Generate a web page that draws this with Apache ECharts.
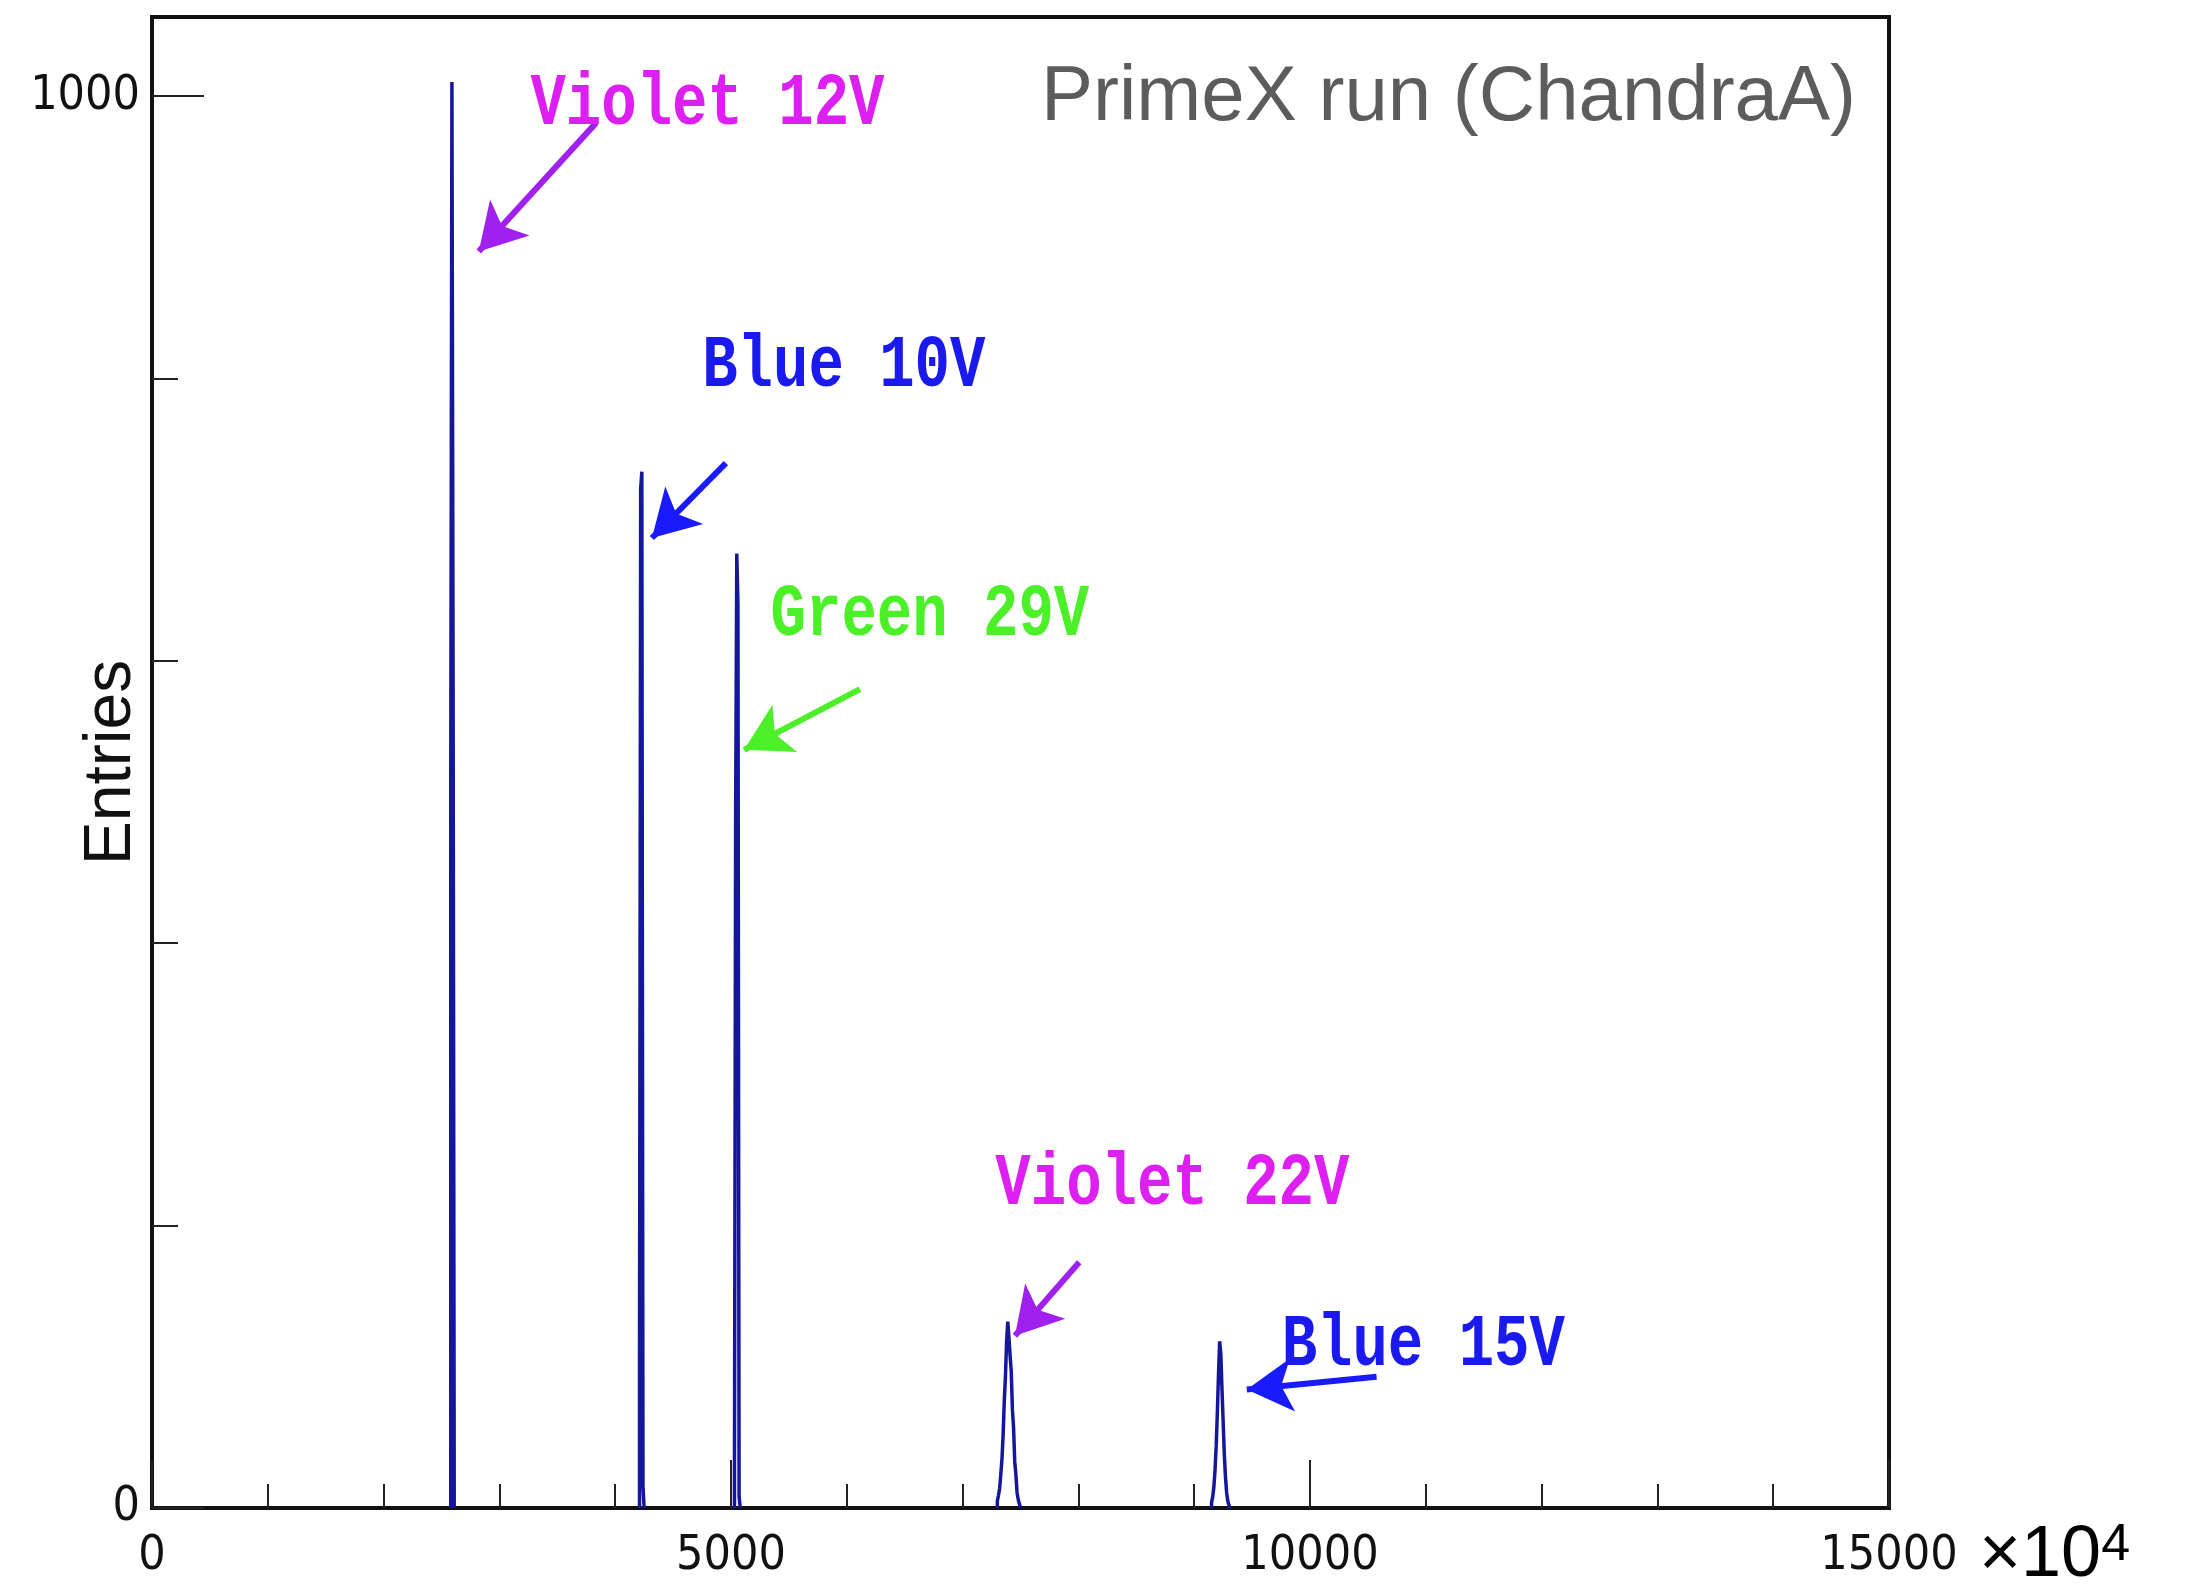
<!DOCTYPE html>
<html>
<head>
<meta charset="utf-8">
<script src="https://cdn.jsdelivr.net/npm/echarts@6/dist/echarts.min.js"></script>
<style>
html,body{margin:0;padding:0;background:#ffffff;}
#chart{width:2188px;height:1587px;}
</style>
</head>
<body>
<div id="chart"></div>
<script>
// ---------------- data ----------------
const binWidth = 10; // x units per histogram bin (axis shown x10^4)
const peakNames = ['Violet 12V', 'Blue 10V', 'Green 29V', 'Violet 22V', 'Blue 15V'];
const peakStarts = [2580, 4210, 5030, 7300, 9150];
const peak1Counts = [518, 1010, 592];
const peak2Counts = [110, 722, 734, 15];
const peak3Counts = [32, 490, 676, 640, 8];
const peak4Counts = [5, 9, 14, 24, 35, 52, 76, 93, 118, 132, 121, 108, 97, 70, 57, 33, 24, 11, 6, 3];
const peak5Counts = [4, 8, 15, 27, 44, 68, 95, 118, 109, 84, 61, 38, 22, 11, 5, 2];
const xMax = 15000;
const yMax = 1056;
const xMajorInterval = 5000;
const yLabelValues = [0, 1000];
const yMinorTickValues = [200, 400, 600, 800];

// annotation anchors (data coordinates)
const annotationTextPos = [[3268, 997], [4751, 811], [5342, 635], [7283, 232], [9755, 118]];
const arrowFrom = [[3835, 981], [4956, 740], [6114, 580], [8007, 174], [10575, 93]];
const arrowTo = [[2822, 890], [4317, 687], [5113, 537], [7452, 122], [9454, 84]];

// ---------------- styles ----------------
const histColor = '#16169a';
const textColors = ['#dd1ff2', '#1a1aee', '#4cf028', '#dd1ff2', '#1a1aee'];
const arrowColors = ['#a020f0', '#1a1aff', '#4cf028', '#a020f0', '#1a1aff'];
const narrowFont = '"Liberation Sans Narrow", "DejaVu Sans Condensed", "Liberation Sans", Arial, sans-serif';
const sansFont = '"Liberation Sans", Arial, Helvetica, sans-serif';
const monoFont = '"Courier New", "Liberation Mono", monospace';

const allCounts = [peak1Counts, peak2Counts, peak3Counts, peak4Counts, peak5Counts];

function histPoints(start, counts) {
  const pts = [[start, 0]];
  counts.forEach((v, i) => pts.push([start + i * binWidth, v]));
  pts.push([start + counts.length * binWidth, 0]);
  return pts;
}

const series = allCounts.map((counts, k) => ({
  type: 'line',
  name: peakNames[k],
  step: 'end',
  showSymbol: false,
  symbol: 'none',
  silent: true,
  animation: false,
  xAxisIndex: 0,
  yAxisIndex: 0,
  lineStyle: { color: histColor, width: 3.5 },
  data: histPoints(peakStarts[k], counts)
}));

series[0].markLine = {
  silent: true,
  animation: false,
  symbol: ['none', 'arrow'],
  symbolSize: [40, 46],
  label: { show: false },
  data: arrowFrom.map((f, i) => [
    { coord: f, lineStyle: { color: arrowColors[i], width: 6, type: 'solid' }, itemStyle: { color: arrowColors[i] } },
    { coord: arrowTo[i] }
  ])
};

const plainNumber = v => String(Math.round(v));

const option = {
  backgroundColor: '#ffffff',
  animation: false,
  title: {
    text: 'PrimeX run (ChandraA)',
    right: 332,
    top: 59,
    padding: 0,
    textStyle: { fontSize: 78, fontWeight: 'normal', color: '#5c5c5c', fontFamily: sansFont }
  },
  grid: {
    left: 152, right: 299, top: 17, bottom: 79,
    show: true, borderColor: '#111', borderWidth: 4,
    containLabel: false, outerBoundsMode: 'none'
  },
  xAxis: {
    type: 'value',
    min: 0, max: xMax, interval: xMajorInterval,
    axisLine: { show: true, onZero: false, lineStyle: { color: '#111', width: 4 } },
    axisTick: { show: true, inside: true, length: 48, lineStyle: { color: '#222', width: 2 } },
    minorTick: { show: true, splitNumber: 5, length: 24, lineStyle: { color: '#222', width: 2 } },
    splitLine: { show: false },
    minorSplitLine: { show: false },
    axisLabel: { margin: 25, fontSize: 48, color: '#111', fontFamily: narrowFont, formatter: plainNumber },
    name: '{a|×10}{b|4}',
    nameLocation: 'end',
    nameGap: 90,
    nameMoveOverlap: false,
    nameTextStyle: {
      padding: [96, 0, 0, 0],
      rich: {
        a: { fontSize: 72, color: '#000', fontFamily: sansFont },
        b: { fontSize: 52, color: '#000', fontFamily: sansFont, verticalAlign: 'top' }
      }
    }
  },
  yAxis: [
    {
      type: 'value',
      min: 0, max: yMax,
      axisLine: { show: true, onZero: false, lineStyle: { color: '#111', width: 4 } },
      axisTick: { show: true, inside: true, length: 52, customValues: yLabelValues, lineStyle: { color: '#222', width: 2 } },
      splitLine: { show: false },
      axisLabel: { margin: 12, fontSize: 48, color: '#111', fontFamily: narrowFont, customValues: yLabelValues, formatter: plainNumber },
      name: 'Entries',
      nameLocation: 'middle',
      nameGap: 7,
      nameMoveOverlap: false,
      nameTextStyle: { fontSize: 66, color: '#111', fontFamily: sansFont }
    },
    {
      type: 'value',
      position: 'left',
      min: 0, max: yMax,
      axisLine: { show: false },
      axisTick: { show: true, inside: true, length: 26, customValues: yMinorTickValues, lineStyle: { color: '#222', width: 2 } },
      axisLabel: { show: false },
      splitLine: { show: false }
    }
  ],
  series: series
};

const chart = echarts.init(document.getElementById('chart'), null, { renderer: 'canvas' });
chart.setOption(option);

const graphics = peakNames.map((t, i) => {
  const p = chart.convertToPixel({ xAxisIndex: 0, yAxisIndex: 0 }, annotationTextPos[i]);
  return {
    type: 'text',
    x: p[0],
    y: p[1] + 5,
    scaleY: 1.25,
    z: 100,
    silent: true,
    style: {
      text: t,
      fill: textColors[i],
      fontSize: 59,
      fontWeight: 'bold',
      fontFamily: monoFont,
      align: 'left',
      verticalAlign: 'middle'
    }
  };
});
chart.setOption({ graphic: graphics });
</script>
</body>
</html>
